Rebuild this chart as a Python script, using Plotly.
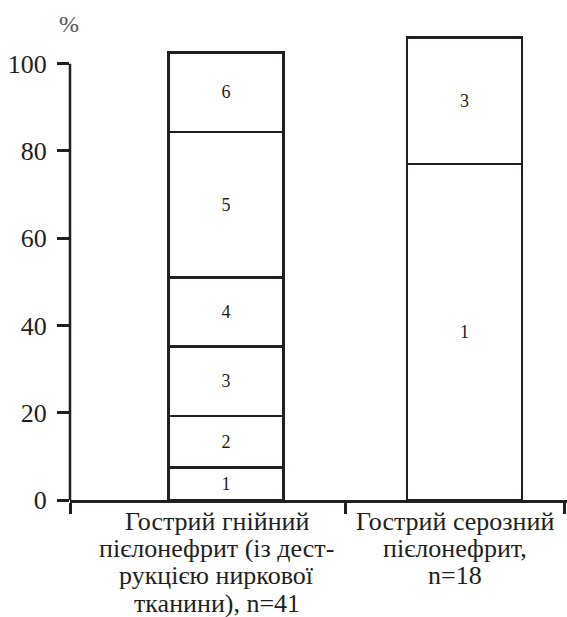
import plotly.graph_objects as go

# ---- data ----
categories = ["Гострий гнійний пієлонефрит (із деструкцією ниркової тканини), n=41",
              "Гострий серозний пієлонефрит, n=18"]
label_lines_0 = ["Гострий гнійний", "пієлонефрит (із дест-", "рукцією ниркової", "тканини), n=41"]
label_lines_1 = ["Гострий серозний", "пієлонефрит,", "n=18"]
segment_names = ["1", "2", "3", "4", "5", "6"]
seg1 = [7.5, 77.0]
seg2 = [11.7, None]
seg3 = [16.0, 29.0]
seg4 = [15.8, None]
seg5 = [33.3, None]
seg6 = [18.2, None]
y_ticks = [0, 20, 40, 60, 80, 100]
y_label = "%"

INK = "#231f20"
FONT = "Liberation Serif, Times New Roman, DejaVu Serif, serif"

x_pos = list(range(len(categories)))
segments = [seg1, seg2, seg3, seg4, seg5, seg6]

fig = go.Figure()
for name, vals in zip(segment_names, segments):
    fig.add_trace(go.Bar(
        x=x_pos, y=vals, name=name,
        width=0.482,
        marker=dict(color="white", line=dict(color=INK, width=2.5)),
        text=[name if v is not None else "" for v in vals],
        textposition="inside", insidetextanchor="middle", textangle=0,
        textfont=dict(family=FONT, size=18, color=INK),
        hoverinfo="skip",
    ))

x_lo, x_hi = -0.654, 1.43

fig.update_layout(
    barmode="stack",
    width=567, height=617,
    margin=dict(l=70, r=0, t=20, b=117),
    paper_bgcolor="white", plot_bgcolor="white",
    showlegend=False,
    font=dict(family=FONT, color=INK),
    xaxis=dict(range=[x_lo, x_hi], showgrid=False, zeroline=False,
               showline=True, linewidth=2.5, linecolor=INK,
               tickmode="array", tickvals=[x_lo, 0.5, 1.42],
               ticks="outside", ticklen=11, tickwidth=2.5, tickcolor=INK,
               showticklabels=False),
    yaxis=dict(range=[0, 110], showgrid=False, zeroline=False, showline=False,
               tickmode="array", tickvals=y_ticks,
               ticks="outside", ticklen=12, tickwidth=2.5, tickcolor=INK,
               tickfont=dict(family=FONT, size=26, color=INK),
               ticklabelstandoff=5),
)

# y axis line from 0 to 100
fig.add_shape(type="line", xref="paper", yref="y", x0=0, x1=0,
              y0=y_ticks[0], y1=y_ticks[-1], line=dict(color=INK, width=2.5))

# category labels, one annotation per line
for xi, lines in zip(x_pos, [label_lines_0, label_lines_1]):
    for k, line in enumerate(lines):
        fig.add_annotation(x=xi, y=0, xref="x", yref="paper", text=line,
                           showarrow=False, xanchor="center", yanchor="middle",
                           xshift=-9, yshift=-21 - 27.4 * k,
                           height=27, borderpad=0,
                           font=dict(family=FONT, size=26, color=INK))

fig.add_annotation(x=0, y=1, xref="paper", yref="paper", text=y_label,
                   showarrow=False, xanchor="center", yanchor="middle",
                   xshift=-1, yshift=-4,
                   font=dict(family=FONT, size=24, color="#555555"))

fig.write_html("out.html", config={"displayModeBar": False},
               post_script="document.body.style.margin='0';document.body.style.overflow='hidden';")
